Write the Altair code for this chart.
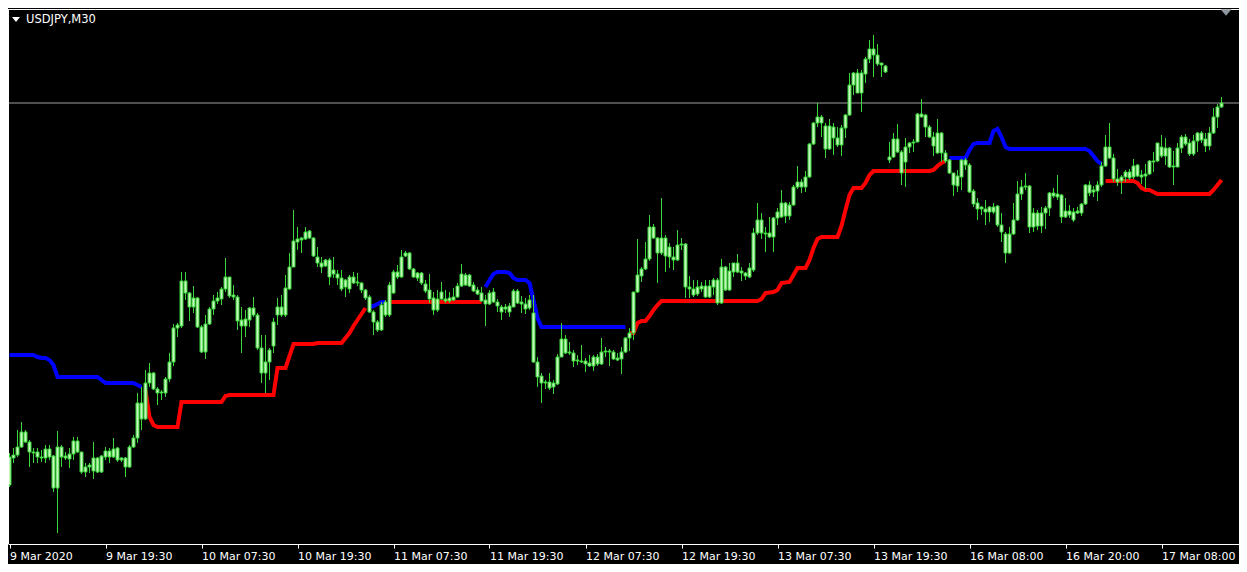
import altair as alt
import pandas as pd

# ---------------- data ----------------
symbol_title = "USDJPY,M30"
bid_price = 105.97

bar_open = [
    102.15, 102.42, 102.45, 102.53, 102.68, 102.58, 102.48, 102.48, 102.42, 102.42,
    102.51, 102.44, 102.12, 102.53, 102.42, 102.41, 102.46, 102.59, 102.48, 102.28,
    102.33, 102.29, 102.42, 102.28, 102.43, 102.49, 102.43, 102.52, 102.40, 102.42,
    102.33, 102.53, 102.62, 102.97, 102.81, 103.17, 103.27, 103.11, 103.07, 103.07,
    103.21, 103.38, 103.72, 103.74, 104.19, 104.07, 103.93, 104.02, 103.73, 103.48,
    103.76, 103.91, 103.99, 104.01, 104.11, 104.23, 104.05, 104.03, 103.80, 103.74,
    103.80, 103.92, 103.85, 103.52, 103.27, 103.38, 103.54, 103.85, 103.85, 103.85,
    104.11, 104.33, 104.58, 104.60, 104.61, 104.69, 104.62, 104.43, 104.37, 104.34,
    104.40, 104.26, 104.26, 104.22, 104.13, 104.23, 104.17, 104.18, 104.17, 104.10,
    104.03, 103.88, 103.78, 103.70, 103.98, 103.85, 104.07, 104.28, 104.23, 104.44,
    104.47, 104.31, 104.22, 104.27, 104.16, 104.10, 104.02, 103.90, 104.01, 104.01,
    103.99, 104.00, 104.03, 104.14, 104.25, 104.14, 104.15, 104.10, 104.07, 104.00,
    103.96, 104.08, 103.98, 103.93, 103.91, 103.94, 103.93, 104.09, 103.98, 103.96,
    103.92, 103.87, 103.38, 103.24, 103.17, 103.18, 103.13, 103.16, 103.43, 103.61,
    103.47, 103.47, 103.39, 103.39, 103.39, 103.37, 103.34, 103.43, 103.36, 103.48,
    103.49, 103.48, 103.40, 103.41, 103.48, 103.62, 103.67, 104.08, 104.24, 104.31,
    104.41, 104.73, 104.62, 104.47, 104.62, 104.43, 104.43, 104.40, 104.55, 104.56,
    104.13, 104.11, 104.06, 104.14, 104.14, 104.03, 104.13, 104.20, 103.97, 104.33,
    104.10, 104.28, 104.37, 104.29, 104.27, 104.23, 104.30, 104.67, 104.80, 104.67,
    104.67, 104.63, 104.82, 104.83, 104.97, 104.84, 104.95, 105.13, 105.18, 105.13,
    105.23, 105.56, 105.77, 105.83, 105.74, 105.51, 105.73, 105.62, 105.55, 105.72,
    105.85, 106.15, 106.27, 106.07, 106.26, 106.41, 106.51, 106.45, 106.37, 106.34,
    105.40, 105.43, 105.61, 105.48, 105.38, 105.53, 105.57, 105.58, 105.86, 105.85,
    105.73, 105.63, 105.47, 105.67, 105.47, 105.40, 105.27, 105.14, 105.23, 105.40,
    105.35, 105.09, 104.97, 104.91, 104.91, 104.88, 104.93, 104.94, 104.75, 104.66,
    104.47, 104.66, 104.80, 105.06, 105.13, 105.14, 104.73, 104.87, 104.74, 104.87,
    104.92, 105.07, 105.03, 105.05, 104.83, 104.89, 104.88, 104.87, 104.87, 104.96,
    105.15, 105.08, 105.09, 105.15, 105.34, 105.53, 105.42, 105.21, 105.19, 105.23,
    105.28, 105.23, 105.35, 105.25, 105.24, 105.26, 105.39, 105.39, 105.53, 105.44,
    105.52, 105.33, 105.33, 105.52, 105.63, 105.57, 105.46, 105.59, 105.67, 105.61,
    105.54, 105.67, 105.83, 105.93,
]

bar_high = [
    102.47, 102.52, 102.70, 102.78, 102.70, 102.60, 102.52, 102.52, 102.50, 102.55,
    102.55, 102.45, 102.69, 102.55, 102.48, 102.52, 102.63, 102.63, 102.48, 102.37,
    102.37, 102.58, 102.43, 102.45, 102.53, 102.52, 102.62, 102.53, 102.43, 102.43,
    102.55, 102.65, 103.07, 103.13, 103.30, 103.37, 103.28, 103.13, 103.10, 103.23,
    103.47, 103.76, 103.77, 104.28, 104.28, 104.08, 104.14, 104.03, 103.75, 103.85,
    103.93, 104.05, 104.08, 104.13, 104.42, 104.23, 104.15, 104.05, 103.93, 103.90,
    103.93, 104.03, 103.87, 103.65, 103.65, 103.52, 103.82, 104.02, 104.05, 104.25,
    104.47, 104.90, 104.73, 104.63, 104.73, 104.70, 104.63, 104.53, 104.43, 104.41,
    104.42, 104.43, 104.30, 104.30, 104.21, 104.25, 104.28, 104.27, 104.18, 104.11,
    104.05, 103.90, 103.80, 103.98, 104.00, 104.18, 104.30, 104.35, 104.50, 104.49,
    104.48, 104.32, 104.28, 104.28, 104.20, 104.26, 104.08, 104.10, 104.18, 104.10,
    104.08, 104.12, 104.17, 104.36, 104.27, 104.26, 104.18, 104.13, 104.13, 104.05,
    104.10, 104.12, 104.01, 103.95, 103.96, 103.97, 104.11, 104.11, 104.04, 104.02,
    104.05, 104.05, 103.43, 103.27, 103.20, 103.27, 103.20, 103.46, 103.77, 103.65,
    103.58, 103.50, 103.45, 103.55, 103.42, 103.45, 103.45, 103.46, 103.62, 103.53,
    103.51, 103.50, 103.47, 103.53, 103.63, 103.72, 104.08, 104.61, 104.33, 104.58,
    104.85, 104.76, 104.63, 105.02, 104.65, 104.57, 104.53, 104.70, 104.62, 104.57,
    104.24, 104.20, 104.20, 104.18, 104.20, 104.20, 104.22, 104.22, 104.41, 104.34,
    104.37, 104.37, 104.46, 104.33, 104.28, 104.37, 104.72, 104.97, 104.87, 104.73,
    104.83, 104.83, 104.92, 105.10, 104.98, 104.98, 105.15, 105.34, 105.21, 105.29,
    105.57, 105.78, 105.97, 105.85, 105.77, 105.81, 105.77, 105.73, 105.75, 105.86,
    106.27, 106.28, 106.31, 106.30, 106.43, 106.60, 106.65, 106.56, 106.37, 106.35,
    105.58, 105.67, 105.76, 105.50, 105.62, 105.58, 105.61, 105.87, 106.01, 105.86,
    105.75, 105.68, 105.81, 105.68, 105.50, 105.41, 105.27, 105.30, 105.41, 105.42,
    105.37, 105.11, 105.02, 104.94, 105.00, 104.94, 104.97, 104.95, 104.87, 104.68,
    104.73, 104.97, 105.19, 105.20, 105.27, 105.15, 104.92, 104.90, 104.93, 104.94,
    105.08, 105.12, 105.25, 105.06, 105.02, 104.95, 104.92, 104.93, 104.97, 105.16,
    105.19, 105.14, 105.19, 105.38, 105.65, 105.77, 105.46, 105.31, 105.25, 105.30,
    105.31, 105.41, 105.36, 105.30, 105.36, 105.40, 105.48, 105.57, 105.65, 105.62,
    105.53, 105.49, 105.57, 105.65, 105.66, 105.61, 105.65, 105.68, 105.69, 105.67,
    105.73, 105.92, 105.96, 106.03,
]

bar_low = [
    102.13, 102.37, 102.43, 102.52, 102.57, 102.33, 102.37, 102.37, 102.38, 102.37,
    102.40, 102.08, 101.67, 102.33, 102.40, 102.32, 102.40, 102.47, 102.26, 102.23,
    102.27, 102.21, 102.27, 102.27, 102.40, 102.37, 102.42, 102.38, 102.38, 102.23,
    102.32, 102.52, 102.57, 102.70, 102.80, 103.13, 103.10, 102.95, 103.00, 103.03,
    103.18, 103.34, 103.63, 103.72, 104.00, 103.79, 103.87, 103.72, 103.47, 103.41,
    103.75, 103.85, 103.96, 103.95, 104.08, 104.02, 104.00, 103.70, 103.47, 103.63,
    103.73, 103.83, 103.50, 103.17, 103.07, 103.20, 103.47, 103.75, 103.83, 103.83,
    104.10, 104.33, 104.50, 104.47, 104.60, 104.61, 104.43, 104.33, 104.27, 104.33,
    104.15, 104.22, 104.15, 104.09, 104.03, 104.07, 104.16, 104.14, 104.07, 104.00,
    103.87, 103.65, 103.68, 103.69, 103.83, 103.83, 104.06, 104.21, 104.22, 104.43,
    104.30, 104.22, 104.19, 104.15, 104.07, 103.97, 103.85, 103.88, 104.00, 103.97,
    103.97, 103.99, 104.02, 104.13, 104.14, 104.13, 104.08, 104.05, 103.98, 103.74,
    103.95, 103.97, 103.88, 103.80, 103.87, 103.83, 103.93, 103.96, 103.87, 103.86,
    103.90, 103.37, 103.13, 102.97, 103.11, 103.10, 103.06, 103.15, 103.43, 103.46,
    103.45, 103.33, 103.35, 103.37, 103.28, 103.33, 103.29, 103.34, 103.35, 103.43,
    103.34, 103.40, 103.39, 103.26, 103.47, 103.49, 103.60, 104.07, 104.18, 104.30,
    104.39, 104.61, 104.17, 104.45, 104.28, 104.32, 104.30, 104.39, 104.50, 104.02,
    104.02, 104.03, 104.04, 104.08, 104.02, 104.02, 104.05, 103.95, 103.96, 104.09,
    104.09, 104.23, 104.27, 104.19, 104.20, 104.22, 104.28, 104.65, 104.61, 104.48,
    104.62, 104.48, 104.75, 104.82, 104.77, 104.80, 104.94, 105.11, 105.07, 105.08,
    105.22, 105.55, 105.73, 105.63, 105.42, 105.50, 105.45, 105.53, 105.44, 105.62,
    105.84, 106.05, 106.07, 105.88, 106.17, 106.37, 106.23, 106.34, 106.23, 106.27,
    105.37, 105.42, 105.47, 105.15, 105.13, 105.47, 105.48, 105.58, 105.83, 105.63,
    105.62, 105.44, 105.46, 105.38, 105.37, 105.26, 105.04, 105.08, 105.10, 105.30,
    105.07, 104.93, 104.80, 104.85, 104.75, 104.78, 104.86, 104.73, 104.58, 104.37,
    104.46, 104.65, 104.79, 105.00, 105.10, 104.67, 104.68, 104.70, 104.67, 104.71,
    104.84, 105.02, 105.00, 104.77, 104.82, 104.82, 104.78, 104.86, 104.84, 104.95,
    105.04, 105.03, 104.99, 105.13, 105.33, 105.41, 105.18, 105.14, 105.06, 105.18,
    105.20, 105.21, 105.23, 105.16, 105.11, 105.25, 105.28, 105.38, 105.42, 105.35,
    105.32, 105.15, 105.33, 105.47, 105.54, 105.44, 105.44, 105.48, 105.57, 105.48,
    105.50, 105.66, 105.72, 105.92,
]

bar_close = [
    102.43, 102.45, 102.53, 102.68, 102.58, 102.48, 102.47, 102.43, 102.43, 102.51,
    102.43, 102.12, 102.53, 102.43, 102.44, 102.46, 102.59, 102.48, 102.28, 102.33,
    102.35, 102.42, 102.28, 102.44, 102.49, 102.43, 102.51, 102.40, 102.42, 102.33,
    102.53, 102.62, 102.97, 102.81, 103.17, 103.27, 103.11, 103.07, 103.08, 103.21,
    103.38, 103.72, 103.75, 104.19, 104.07, 103.93, 104.02, 103.73, 103.48, 103.76,
    103.91, 103.99, 104.02, 104.11, 104.23, 104.04, 104.03, 103.79, 103.74, 103.81,
    103.92, 103.85, 103.52, 103.27, 103.38, 103.50, 103.78, 103.93, 103.93, 104.12,
    104.33, 104.59, 104.61, 104.62, 104.68, 104.62, 104.44, 104.37, 104.33, 104.40,
    104.23, 104.30, 104.22, 104.11, 104.20, 104.11, 104.23, 104.17, 104.10, 104.02,
    103.88, 103.78, 103.70, 103.95, 103.85, 104.15, 104.28, 104.23, 104.43, 104.47,
    104.31, 104.23, 104.27, 104.17, 104.09, 104.01, 103.90, 104.01, 104.08, 103.99,
    104.02, 104.03, 104.14, 104.26, 104.15, 104.25, 104.09, 104.06, 103.99, 103.96,
    104.07, 103.98, 103.94, 103.88, 103.93, 103.88, 104.09, 103.97, 103.96, 103.91,
    104.00, 103.38, 103.23, 103.17, 103.18, 103.12, 103.17, 103.43, 103.61, 103.47,
    103.48, 103.39, 103.40, 103.38, 103.36, 103.34, 103.43, 103.36, 103.48, 103.49,
    103.48, 103.41, 103.42, 103.48, 103.62, 103.67, 104.08, 104.25, 104.31, 104.41,
    104.73, 104.62, 104.47, 104.62, 104.44, 104.53, 104.40, 104.55, 104.56, 104.13,
    104.11, 104.05, 104.13, 104.11, 104.03, 104.14, 104.20, 103.97, 104.33, 104.10,
    104.29, 104.37, 104.28, 104.27, 104.24, 104.32, 104.67, 104.80, 104.67, 104.66,
    104.63, 104.82, 104.88, 104.97, 104.84, 104.95, 105.13, 105.18, 105.13, 105.23,
    105.56, 105.77, 105.83, 105.77, 105.51, 105.74, 105.62, 105.55, 105.72, 105.85,
    106.15, 106.27, 106.07, 106.27, 106.41, 106.51, 106.45, 106.36, 106.35, 106.28,
    105.43, 105.61, 105.48, 105.27, 105.53, 105.57, 105.58, 105.86, 105.83, 105.73,
    105.63, 105.54, 105.67, 105.47, 105.39, 105.27, 105.15, 105.24, 105.40, 105.35,
    105.08, 104.96, 104.91, 104.93, 104.88, 104.93, 104.88, 104.75, 104.68, 104.47,
    104.66, 104.80, 105.06, 105.13, 105.14, 104.73, 104.87, 104.74, 104.87, 104.92,
    105.07, 105.04, 105.06, 104.83, 104.89, 104.85, 104.80, 104.89, 104.96, 105.15,
    105.07, 105.10, 105.15, 105.34, 105.53, 105.42, 105.21, 105.18, 105.23, 105.28,
    105.22, 105.34, 105.24, 105.23, 105.26, 105.39, 105.38, 105.57, 105.44, 105.52,
    105.33, 105.34, 105.52, 105.63, 105.56, 105.46, 105.59, 105.67, 105.60, 105.54,
    105.67, 105.83, 105.93, 105.97,
]

# trend indicator (supertrend-like): one list of vertices per run of one colour
trend_dirs = ["down", "up", "down", "up", "down", "up", "down", "up"]
trend_bars = [
    [0, 6, 7, 8, 9, 10, 11, 12, 22, 23, 24, 31, 32, 33],
    [34, 35, 36, 37, 42, 43, 53, 54, 55, 66, 67, 69, 70, 71, 76, 77, 83, 84, 85, 86, 87, 88, 89],
    [90, 91, 92, 93, 94],
    [95, 118],
    [119, 120, 121, 122, 124, 125, 126, 127, 129, 130, 131, 132, 133, 154],
    [155, 156, 157, 158, 159, 160, 161, 162, 163, 187, 188, 189, 191, 192, 193, 195, 196, 197,
     199, 200, 201, 202, 203, 207, 208, 209, 210, 211, 213, 214, 215, 216, 230, 231, 232, 233, 234],
    [235, 239, 240, 241, 242, 245, 246, 247, 248, 249, 250, 269, 270, 271, 272, 273],
    [274, 281, 282, 283, 284, 285, 286, 287, 300, 301, 302, 303],
]
trend_vals = [
    [103.45, 103.45, 103.43, 103.42, 103.42, 103.40, 103.35, 103.23, 103.23, 103.20, 103.17, 103.17, 103.15, 103.13],
    [103.10, 102.83, 102.75, 102.73, 102.73, 102.98, 102.98, 103.04, 103.05, 103.05, 103.32, 103.32, 103.44,
     103.56, 103.56, 103.57, 103.57, 103.62, 103.67, 103.74, 103.80, 103.86, 103.92],
    [103.93, 103.94, 103.96, 103.98, 103.98],
    [103.98, 103.98],
    [104.13, 104.20, 104.26, 104.28, 104.28, 104.27, 104.22, 104.20, 104.20, 104.17, 104.00, 103.82, 103.73, 103.73],
    [103.67, 103.67, 103.77, 103.79, 103.79, 103.84, 103.90, 103.95, 103.99, 103.99, 104.01, 104.07, 104.08,
     104.10, 104.17, 104.18, 104.25, 104.32, 104.32, 104.40, 104.52, 104.61, 104.63, 104.63, 104.74, 104.90,
     105.05, 105.12, 105.12, 105.17, 105.25, 105.29, 105.29, 105.30, 105.34, 105.37, 105.39],
    [105.42, 105.42, 105.50, 105.56, 105.57, 105.57, 105.69, 105.71, 105.63, 105.53, 105.51, 105.51, 105.49,
     105.44, 105.39, 105.36],
    [105.19, 105.19, 105.17, 105.12, 105.10, 105.10, 105.08, 105.06, 105.06, 105.10, 105.15, 105.20],
]

tick_bars = [0, 24, 48, 72, 96, 120, 144, 168, 192, 216, 240, 264, 288]
tick_labels = ["9 Mar 2020", "9 Mar 19:30", "10 Mar 07:30", "10 Mar 19:30", "11 Mar 07:30",
               "11 Mar 19:30", "12 Mar 07:30", "12 Mar 19:30", "13 Mar 07:30", "13 Mar 19:30",
               "16 Mar 08:00", "16 Mar 20:00", "17 Mar 08:00"]

# ---------------- tables ----------------
n = min(len(bar_open), len(bar_high), len(bar_low), len(bar_close))
candles = pd.DataFrame({
    "bar": list(range(n)),
    "open": bar_open[:n], "high": bar_high[:n], "low": bar_low[:n], "close": bar_close[:n],
})
candles["body_lo"] = candles[["open", "close"]].min(axis=1)
candles["body_hi"] = candles[["open", "close"]].max(axis=1)

rows = []
for k, (d, bs, vs) in enumerate(zip(trend_dirs, trend_bars, trend_vals)):
    for b, v in zip(bs, vs):
        rows.append({"seg": k, "dir": d, "bar": b, "val": v})
trend_df = pd.DataFrame(rows)

W, H = 1231, 535
FONT = "DejaVu Sans"

x_scale = alt.Scale(domain=[-0.375, W / 4 - 0.375], nice=False, zero=False, padding=0)
y_scale = alt.Scale(domain=[101.56, 106.91], nice=False, zero=False, padding=0)
label_expr = "[" + ",".join("'%s'" % s for s in tick_labels) + "][round(datum.value/24)]"
x_axis = alt.Axis(values=tick_bars, labelExpr=label_expr, title=None, grid=False,
                  domainColor="#ffffff", tickColor="#ffffff", tickSize=4, tickWidth=1,
                  labelColor="#ffffff", labelFont=FONT, labelFontSize=11, labelAlign="left",
                  labelPadding=2, labelOverlap=False, labelFlush=False)
X = alt.X("bar:Q", scale=x_scale, axis=x_axis)

one = pd.DataFrame({"a": [0]})

bid = alt.Chart(pd.DataFrame({"p": [bid_price]})).mark_rule(
    color="#a0a0a0", strokeWidth=1
).encode(y=alt.Y("p:Q", scale=y_scale, axis=None))

trend = alt.Chart(trend_df).mark_line(strokeWidth=4, strokeCap="butt").encode(
    x=X,
    y=alt.Y("val:Q", scale=y_scale, axis=None),
    color=alt.Color("dir:N", scale=alt.Scale(domain=["up", "down"], range=["#ff0000", "#0000ff"]), legend=None),
    detail="seg:N",
    order="bar:Q",
)

wicks = alt.Chart(candles).mark_rule(color="#3ad63a", strokeWidth=1).encode(
    x=X, y=alt.Y("low:Q", scale=y_scale, axis=None), y2="high:Q"
)

bodies = alt.Chart(candles).mark_bar(size=3, fill="#c6f5bd", stroke="#33d633", strokeWidth=1).encode(
    x=X, y=alt.Y("body_lo:Q", scale=y_scale, axis=None), y2="body_hi:Q"
)

left_line = alt.Chart(one).mark_rule(color="#ffffff", strokeWidth=1).encode(
    x=alt.value(0.5), y=alt.value(0), y2=alt.value(H)
)
top_line = alt.Chart(one).mark_rule(color="#ffffff", strokeWidth=1).encode(
    y=alt.value(0.5), x=alt.value(0), x2=alt.value(W)
)

title_txt = alt.Chart(one).mark_text(
    text=symbol_title, color="#ffffff", font=FONT, fontSize=11.5, align="left", baseline="middle"
).encode(x=alt.value(18), y=alt.value(10.5))

tri_path = "M-1,-0.6L1,-0.6L0,0.6Z"
tri_left = alt.Chart(one).mark_point(
    shape=tri_path, filled=True, color="#ffffff", opacity=1, size=64, strokeWidth=0
).encode(x=alt.value(8), y=alt.value(10.5))
tri_right = alt.Chart(one).mark_point(
    shape=tri_path, filled=True, color="#8e959e", opacity=1, size=121, strokeWidth=0
).encode(x=alt.value(1218), y=alt.value(3.5))

chart = alt.layer(
    bid, trend, wicks, bodies, left_line, top_line, title_txt, tri_left, tri_right
).properties(
    width=W, height=H, background="#000000",
    autosize=alt.AutoSizeParams(type="none"),
    padding={"left": 0, "top": 1, "right": 0, "bottom": 20},
).configure_view(stroke=None, fill="#000000")

chart.save("out.html", embed_options={"renderer": "svg", "actions": False})
